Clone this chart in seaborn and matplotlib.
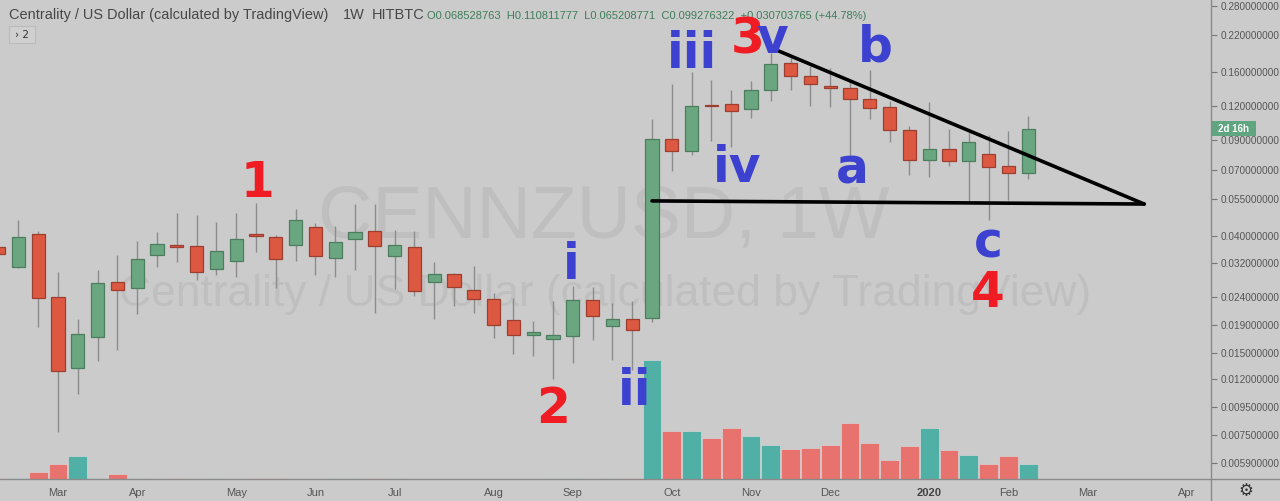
import numpy as np
import pandas as pd
import matplotlib
matplotlib.use("Agg")
import matplotlib.pyplot as plt
import seaborn as sns
from matplotlib.lines import Line2D
from matplotlib.patches import Rectangle
from matplotlib.ticker import NullLocator, FixedLocator, FixedFormatter
from matplotlib import font_manager

# ---------------- data ----------------
week_start = pd.date_range("2019-02-11", periods=53, freq="W-MON")

open_ = [0.0366, 0.0309, 0.0408, 0.0240, 0.01318, 0.01716, 0.02728, 0.02586, 0.0342, 0.03726,
         0.0369, 0.03042, 0.0325, 0.0408, 0.0399, 0.03726, 0.04333, 0.03333, 0.0392, 0.0419,
         0.0339, 0.0366, 0.02728, 0.02917, 0.02543, 0.0236, 0.01972, 0.01743, 0.01687, 0.0173,
         0.0234, 0.0188, 0.01989, 0.02006, 0.09107, 0.08235, 0.1218, 0.1225, 0.1174, 0.1378,
         0.1731, 0.1551, 0.1425, 0.1401, 0.1277, 0.1194, 0.09833, 0.07628, 0.08375, 0.07564,
         0.0803, 0.0725, 0.068528763]
high = [0.0376, 0.0460, 0.0419, 0.0297, 0.01989, 0.03016, 0.0342, 0.03854, 0.04155, 0.04874,
        0.04792, 0.04525, 0.04874, 0.05307, 0.0405, 0.0504, 0.04487, 0.0437, 0.05263, 0.05263,
        0.04225, 0.0419, 0.03223, 0.02941, 0.0312, 0.02479, 0.0238, 0.01956, 0.0232, 0.0263,
        0.02608, 0.02281, 0.0232, 0.1078, 0.145, 0.1604, 0.14995, 0.1378, 0.1487, 0.1883,
        0.1851, 0.1687, 0.1659, 0.1475, 0.1631, 0.1256, 0.1017, 0.1245, 0.09916, 0.09669,
        0.09427, 0.0975, 0.110811777]
low = [0.0336, 0.0307, 0.0186, 0.00768, 0.01056, 0.0140, 0.01537, 0.02075, 0.0309, 0.03223,
       0.02775, 0.02892, 0.02846, 0.03508, 0.02586, 0.0325, 0.02892, 0.02846, 0.03016, 0.02093,
       0.02564, 0.0242, 0.01989, 0.0222, 0.02093, 0.01701, 0.01486, 0.0146, 0.01199, 0.01376,
       0.01673, 0.01412, 0.01296, 0.01939, 0.06951, 0.07962, 0.08954, 0.08518, 0.1088, 0.1256,
       0.1378, 0.1204, 0.1194, 0.07962, 0.1078, 0.0888, 0.0672, 0.06614, 0.0725, 0.05307,
       0.046, 0.05443, 0.065208771]
close = [0.0345, 0.0399, 0.0238, 0.01285, 0.01757, 0.02706, 0.02543, 0.03305, 0.0376, 0.0366,
         0.0297, 0.03538, 0.0392, 0.0402, 0.03305, 0.0460, 0.0339, 0.03822, 0.04155, 0.0369,
         0.03726, 0.02521, 0.02917, 0.02608, 0.0236, 0.01891, 0.01743, 0.01787, 0.01743, 0.0234,
         0.0204, 0.01989, 0.01818, 0.09107, 0.08235, 0.1204, 0.1204, 0.1154, 0.1378, 0.1716,
         0.1551, 0.145, 0.1401, 0.1277, 0.1184, 0.09833, 0.07628, 0.08375, 0.07564, 0.0888,
         0.07189, 0.068572557, 0.099276322]
volume = [5, 12, 66, 152, 228, 12, 53, 7, 3, 5,
          3, 5, 3, 5, 5, 3, 3, 5, 12, 12,
          5, 3, 3, 3, 3, 3, 3, 3, 5, 5,
          3, 5, 5, 1180, 480, 480, 410, 510, 430, 340,
          300, 310, 340, 560, 360, 190, 330, 510, 290, 240,
          150, 230, 150]

month_tick_dates = ["2019-03-04", "2019-04-01", "2019-05-06", "2019-06-03", "2019-07-01",
                    "2019-08-05", "2019-09-02", "2019-10-07", "2019-11-04", "2019-12-02",
                    "2020-01-06", "2020-02-03", "2020-03-02", "2020-04-06"]
month_tick_labels = ["Mar", "Apr", "May", "Jun", "Jul", "Aug", "Sep", "Oct", "Nov", "Dec",
                     "2020", "Feb", "Mar", "Apr"]
price_ticks = [0.28, 0.22, 0.16, 0.12, 0.09, 0.07, 0.055, 0.04, 0.032, 0.024,
               0.019, 0.015, 0.012, 0.0095, 0.0075, 0.0059]

upper_trend_dates = ["2019-11-13", "2020-03-22"]
upper_trend_prices = [0.193, 0.0526]
lower_trend_dates = ["2019-09-30", "2020-03-22"]
lower_trend_prices = [0.0540, 0.0526]

symbol = "CENNZUSD"
title_text = "Centrality / US Dollar (calculated by TradingView)"

# ---------------- style ----------------
sns.set_theme(style="white")
BG = "#cbcbcb"
plt.rcParams["font.family"] = ["DejaVu Sans"]

W, H = 1280, 501
fig = plt.figure(figsize=(W / 100, H / 100), dpi=100, facecolor=BG)

def fx(px):
    return px / W

def fy(py):
    return 1 - py / H

plot_right = 1211
plot_bottom = 479
rect = [0, fy(plot_bottom), fx(plot_right), 1 - fy(plot_bottom)]

axv = fig.add_axes(rect, zorder=0)
ax = fig.add_axes(rect, zorder=1)
ax.set_facecolor("none")
axv.set_facecolor(BG)

xs = ((week_start - week_start[0]).days / 7).values.astype(float)
o = np.array(open_); h = np.array(high); l = np.array(low); c = np.array(close)
up = c >= o

# volume via seaborn
vol_df = pd.DataFrame({"x": xs, "volume": volume, "dir": np.where(up, "up", "down")})
sns.barplot(data=vol_df, x="x", y="volume", hue="dir",
            palette={"up": "#50b0a6", "down": "#e8726e"},
            native_scale=True, dodge=False, width=0.95, errorbar=None,
            legend=False, ax=axv, edgecolor="#d6d6d6", linewidth=0.5, saturation=1)
xlim = (3 - 58 / 19.8, 3 + (plot_right - 58) / 19.8)
axv.set_xlim(*xlim)
axv.set_ylim(0, max(volume) * plot_bottom / 119)
axv.axis("off")

# candles
ax.set_yscale("log")
ax.vlines(xs, l, h, color="#8c8c8c", lw=1, zorder=2)
body_bottom = np.minimum(o, c)
body_height = np.abs(c - o)
ax.bar(xs[up], body_height[up], bottom=body_bottom[up], width=0.66,
       color="#6aa780", edgecolor="#4d7d5f", linewidth=0.9, zorder=3)
ax.bar(xs[~up], body_height[~up], bottom=body_bottom[~up], width=0.66,
       color="#dd5841", edgecolor="#9c3f31", linewidth=0.9, zorder=3)

# trend lines
for dts, prs in [(upper_trend_dates, upper_trend_prices), (lower_trend_dates, lower_trend_prices)]:
    tx = ((pd.to_datetime(dts) - week_start[0]).days / 7).values
    ax.plot(tx, prs, color="black", lw=2.6, solid_capstyle="round", zorder=4)

ax.set_xlim(*xlim)
ax.set_ylim(0.005161, 0.2945)

# axes styling
for s in ["left", "top", "bottom", "right"]:
    ax.spines[s].set_visible(False)
ax.yaxis.tick_right()
ax.yaxis.set_major_locator(FixedLocator(price_ticks))
ax.yaxis.set_major_formatter(FixedFormatter([f"{t:.9f}" for t in price_ticks]))
ax.yaxis.set_minor_locator(NullLocator())
ax.tick_params(axis="y", which="major", direction="out", length=4, width=0.8,
               color="#777777", labelsize=7.2, labelcolor="#555555", pad=3)
for lab in ax.get_yticklabels():
    lab.set_family("Liberation Sans")
tick_x = ((pd.to_datetime(month_tick_dates) - week_start[0]).days / 7).values
ax.xaxis.set_major_locator(FixedLocator(tick_x))
ax.xaxis.set_major_formatter(FixedFormatter(month_tick_labels))
ax.xaxis.set_minor_locator(NullLocator())
ax.tick_params(axis="x", which="major", direction="out", length=4, width=0.8,
               color="#777777", labelsize=8, labelcolor="#555555", pad=2.5)
for lab in ax.get_xticklabels():
    lab.set_family("Liberation Sans")
    if lab.get_text() == "2020":
        lab.set_fontweight("bold")
        lab.set_color("#444444")
ax.grid(False)

# frame lines
fig.add_artist(Line2D([0, 1], [fy(plot_bottom), fy(plot_bottom)], color="#8a8a8a", lw=1.0,
                      transform=fig.transFigure))
fig.add_artist(Line2D([fx(plot_right), fx(plot_right)], [0, 1], color="#8a8a8a", lw=1.0,
                      transform=fig.transFigure))

renderer = fig.canvas.get_renderer()

def fit_width(t, target):
    bb = t.get_window_extent(renderer=renderer)
    t.set_fontsize(t.get_fontsize() * target / bb.width)

names = {f.name for f in font_manager.fontManager.ttflist}
wm_font = "Liberation Sans Narrow" if "Liberation Sans Narrow" in names else "Liberation Sans"

# watermarks
wm1 = fig.text(fx(604), fy(237), f"{symbol}, 1W", ha="center", va="baseline",
               fontsize=60, color="#bfbfbf", family=wm_font, zorder=0.5)
fit_width(wm1, 572)
wm2 = fig.text(fx(605), fy(306), title_text, ha="center", va="baseline",
               fontsize=30, color="#bfbfbf", family=wm_font, zorder=0.5)
fit_width(wm2, 970)

# header
t1 = fig.text(fx(9), fy(19), title_text, ha="left", va="baseline", fontsize=9,
              color="#474747", family="Liberation Sans")
fit_width(t1, 320)
fig.text(fx(343), fy(19), "1W", ha="left", va="baseline", fontsize=t1.get_fontsize(),
         color="#474747", family="Liberation Sans")
fig.text(fx(372), fy(19), "HITBTC", ha="left", va="baseline", fontsize=t1.get_fontsize(),
         color="#474747", family="Liberation Sans")
chg = close[-1] - close[-2]
ohlc = (f"O{open_[-1]:.9f}  H{high[-1]:.9f}  L{low[-1]:.9f}  C{close[-1]:.9f}  "
        f"{chg:+.9f} ({chg / close[-2] * 100:+.2f}%)")
t2 = fig.text(fx(427), fy(19), ohlc, ha="left", va="baseline", fontsize=8,
              color="#3f7d59", family="Liberation Sans")
fit_width(t2, 440)

# "> 2" box
fig.add_artist(Rectangle((fx(9), fy(43)), fx(26), (43 - 26) / H, transform=fig.transFigure,
                         facecolor="#d0d0d0", edgecolor="#bcbcbc", lw=0.8))
fig.text(fx(22), fy(34.5), "› 2", ha="center", va="center", fontsize=7.5, color="#333333")

# price label
fig.add_artist(Rectangle((fx(1212), fy(136)), fx(44), 15 / H, transform=fig.transFigure,
                         facecolor="#5fa57f", edgecolor="none"))
fig.text(fx(1234), fy(128.5), "2d 16h", ha="center", va="center", fontsize=7,
         color="white", fontweight="bold", family="Liberation Sans")

# gear
fig.text(fx(1246), fy(491), "\u2699", ha="center", va="center", fontsize=12, color="#333333")

# wave labels
RED = "#ef1c24"
BLUE = "#3c42cf"
wave_labels = [
    ("1", RED, 257, 197), ("2", RED, 553, 423), ("3", RED, 748, 54), ("4", RED, 988, 307),
    ("iii", BLUE, 692, 68), ("v", BLUE, 772, 53), ("b", BLUE, 875, 62), ("iv", BLUE, 737, 182),
    ("a", BLUE, 852, 183), ("c", BLUE, 988, 257), ("i", BLUE, 571, 279), ("ii", BLUE, 635, 405),
]
for txt, col, px, py in wave_labels:
    fig.text(fx(px), fy(py), txt, ha="center", va="baseline", fontsize=35,
             fontweight="bold", color=col, zorder=10)

fig.savefig("out.png", dpi=100, facecolor=BG)
